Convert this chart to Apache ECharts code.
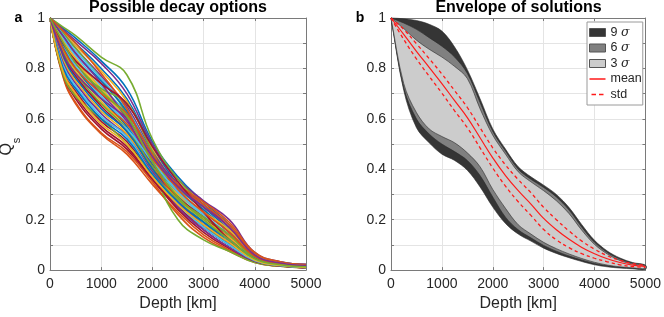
<!DOCTYPE html>
<html><head><meta charset="utf-8">
<script src="https://cdn.jsdelivr.net/npm/echarts@6/dist/echarts.min.js"></script>
<style>html,body{margin:0;padding:0;background:#fff}#c{width:664px;height:317px}</style>
</head><body><div id="c"></div>
<script>
// ---------- data ----------
const depthTicks = [0, 1000, 2000, 3000, 4000, 5000];
const qTicks = [0, 0.2, 0.4, 0.6, 0.8, 1];

// panel a: sampled decay curves (depth in km)
const depthA = [0, 250, 500, 1000, 1500, 2000, 2500, 3000, 3500, 4000, 4500, 5000];
const decayCurves = [
  [1, 0.96, 0.92, 0.83, 0.72, 0.51, 0.37, 0.27, 0.18, 0.065, 0.032, 0.022],
  [1, 0.775, 0.665, 0.545, 0.47, 0.35, 0.22, 0.13, 0.075, 0.03, 0.015, 0.009],
  [1, 0.915, 0.84, 0.72, 0.61, 0.44, 0.32, 0.25, 0.17, 0.06, 0.028, 0.018],
  [1, 0.955, 0.91, 0.82, 0.70, 0.50, 0.36, 0.275, 0.20, 0.07, 0.033, 0.023],
  [1, 0.965, 0.93, 0.845, 0.775, 0.52, 0.36, 0.26, 0.17, 0.06, 0.03, 0.02],
  [1, 0.92, 0.85, 0.73, 0.62, 0.45, 0.31, 0.21, 0.12, 0.045, 0.022, 0.014],
  [1, 0.785, 0.69, 0.57, 0.49, 0.36, 0.24, 0.15, 0.085, 0.033, 0.016, 0.01],
  [1, 0.95, 0.90, 0.80, 0.68, 0.49, 0.34, 0.25, 0.16, 0.06, 0.03, 0.02],
  [1, 0.77, 0.66, 0.54, 0.46, 0.34, 0.23, 0.14, 0.08, 0.032, 0.016, 0.01],
  [1, 0.945, 0.89, 0.79, 0.67, 0.48, 0.33, 0.24, 0.15, 0.055, 0.027, 0.018],
  [1, 0.94, 0.88, 0.77, 0.65, 0.47, 0.34, 0.26, 0.17, 0.06, 0.03, 0.02],
  [1, 0.94, 0.88, 0.76, 0.62, 0.40, 0.20, 0.12, 0.075, 0.03, 0.015, 0.01],
  [1, 0.935, 0.87, 0.76, 0.64, 0.46, 0.32, 0.22, 0.13, 0.05, 0.024, 0.016],
  [1, 0.80, 0.71, 0.59, 0.51, 0.37, 0.25, 0.16, 0.09, 0.035, 0.017, 0.01],
  [1, 0.93, 0.86, 0.75, 0.63, 0.46, 0.33, 0.24, 0.15, 0.055, 0.026, 0.017],
  [1, 0.80, 0.70, 0.60, 0.54, 0.42, 0.33, 0.26, 0.18, 0.065, 0.03, 0.02],
  [1, 0.91, 0.83, 0.71, 0.60, 0.44, 0.30, 0.20, 0.12, 0.045, 0.02, 0.013],
  [1, 0.90, 0.82, 0.70, 0.59, 0.43, 0.31, 0.23, 0.15, 0.055, 0.025, 0.016],
  [1, 0.87, 0.80, 0.72, 0.66, 0.47, 0.29, 0.19, 0.11, 0.04, 0.02, 0.012],
  [1, 0.895, 0.81, 0.69, 0.58, 0.42, 0.30, 0.22, 0.14, 0.05, 0.023, 0.015],
  [1, 0.78, 0.68, 0.56, 0.48, 0.36, 0.25, 0.17, 0.10, 0.04, 0.018, 0.011],
  [1, 0.885, 0.80, 0.68, 0.57, 0.42, 0.29, 0.19, 0.11, 0.04, 0.02, 0.012],
  [1, 0.85, 0.76, 0.66, 0.58, 0.44, 0.34, 0.27, 0.19, 0.07, 0.033, 0.022],
  [1, 0.875, 0.79, 0.67, 0.56, 0.41, 0.30, 0.23, 0.16, 0.06, 0.027, 0.017],
  [1, 0.93, 0.86, 0.74, 0.60, 0.41, 0.25, 0.16, 0.09, 0.035, 0.017, 0.01],
  [1, 0.865, 0.78, 0.66, 0.56, 0.41, 0.28, 0.18, 0.10, 0.038, 0.018, 0.011],
  [1, 0.81, 0.72, 0.63, 0.56, 0.43, 0.31, 0.22, 0.14, 0.05, 0.024, 0.015],
  [1, 0.855, 0.77, 0.65, 0.55, 0.40, 0.29, 0.21, 0.13, 0.048, 0.022, 0.014],
  [1, 0.845, 0.76, 0.64, 0.55, 0.40, 0.27, 0.17, 0.10, 0.04, 0.019, 0.011],
  [1, 0.95, 0.90, 0.78, 0.64, 0.43, 0.28, 0.21, 0.14, 0.05, 0.024, 0.015],
  [1, 0.835, 0.75, 0.63, 0.54, 0.39, 0.28, 0.20, 0.13, 0.05, 0.023, 0.014],
  [1, 0.825, 0.74, 0.62, 0.53, 0.39, 0.27, 0.18, 0.11, 0.042, 0.02, 0.012],
  [1, 0.78, 0.69, 0.60, 0.50, 0.38, 0.28, 0.21, 0.14, 0.05, 0.024, 0.015],
  [1, 0.815, 0.73, 0.61, 0.53, 0.38, 0.26, 0.17, 0.10, 0.038, 0.018, 0.011],
  [1, 0.90, 0.83, 0.74, 0.66, 0.49, 0.35, 0.23, 0.12, 0.045, 0.022, 0.014],
  [1, 0.805, 0.72, 0.60, 0.52, 0.38, 0.27, 0.19, 0.12, 0.045, 0.021, 0.013],
  [1, 0.88, 0.80, 0.70, 0.62, 0.46, 0.32, 0.23, 0.15, 0.055, 0.025, 0.016],
  [1, 0.79, 0.70, 0.58, 0.50, 0.37, 0.26, 0.18, 0.11, 0.04, 0.019, 0.011],
  [1, 0.86, 0.78, 0.68, 0.60, 0.45, 0.33, 0.25, 0.17, 0.06, 0.028, 0.018],
  [1, 0.905, 0.82, 0.71, 0.61, 0.43, 0.29, 0.20, 0.12, 0.045, 0.021, 0.013]
];

// panel b: envelopes (depth in km)
const depthB = [0,250,500,750,1000,1250,1500,1750,2000,2250,2500,2750,3000,3250,3500,3750,4000,4250,4500,4750,5000];
const upper9 = [1,0.997,0.99,0.975,0.948,0.885,0.795,0.68,0.56,0.48,0.41,0.37,0.337,0.30,0.248,0.18,0.118,0.076,0.048,0.03,0.02];
const upper6 = [1,0.98,0.955,0.922,0.888,0.845,0.78,0.665,0.55,0.472,0.40,0.36,0.328,0.29,0.238,0.17,0.11,0.07,0.044,0.027,0.018];
const upper3 = [1,0.958,0.912,0.876,0.845,0.808,0.76,0.64,0.535,0.46,0.39,0.35,0.315,0.275,0.224,0.158,0.102,0.064,0.038,0.024,0.016];
const lower3 = [1,0.74,0.625,0.56,0.53,0.505,0.465,0.41,0.32,0.245,0.18,0.143,0.11,0.085,0.064,0.046,0.031,0.02,0.013,0.009,0.006];
const lower6 = [1,0.725,0.60,0.54,0.50,0.47,0.435,0.375,0.29,0.21,0.16,0.128,0.098,0.075,0.056,0.04,0.026,0.017,0.011,0.007,0.005];
const lower9 = [1,0.713,0.565,0.505,0.46,0.435,0.396,0.33,0.25,0.185,0.143,0.115,0.087,0.066,0.049,0.034,0.021,0.013,0.008,0.005,0.003];
const meanQ  = [1,0.935,0.868,0.804,0.74,0.672,0.605,0.525,0.445,0.375,0.315,0.262,0.205,0.16,0.122,0.09,0.065,0.045,0.03,0.02,0.015];
const stdQ   = [0,0.02,0.03,0.035,0.038,0.04,0.04,0.04,0.04,0.042,0.044,0.045,0.044,0.04,0.033,0.025,0.018,0.012,0.009,0.006,0.004];

const lineColors = ['#0072BD','#D95319','#EDB120','#7E2F8E','#77AC30','#4DBEEE','#A2142F'];
const bandColors = {b9:'#353535', b6:'#808080', b3:'#cccccc'};

// ---------- chart ----------
const FONT = 'Liberation Sans, Arial, Helvetica, sans-serif';
const TXT = '#262626';
const FRAME = '#7a7a7a';
const RED = '#ff1a1a';
const chart = echarts.init(document.getElementById('c'), null, {renderer:'canvas'});

function qFmt(v){
  const k = Math.round(v*10);
  if (k % 2) return '';
  const t = qTicks.find(q => Math.abs(q - k/10) < 1e-9);
  return t === undefined ? '' : String(t);
}
function xAxes(gi){
  return [{
    type:'value', gridIndex:gi, min:0, max:5000, interval:1000, position:'bottom',
    axisLine:{onZero:false, lineStyle:{color:FRAME, width:1}},
    axisTick:{inside:true, length:3, lineStyle:{color:FRAME}},
    axisLabel:{fontSize:14, color:TXT, fontFamily:FONT, margin:7,
      formatter: v => depthTicks.includes(v) ? String(v) : ''},
    splitLine:{show:true, lineStyle:{color:'#e4e4e4', width:1}},
    name:'Depth [km]', nameLocation:'middle', nameGap:23,
    nameTextStyle:{fontSize:16, color:TXT, fontFamily:FONT}
  },{
    type:'value', gridIndex:gi, min:0, max:5000, interval:1000, position:'top',
    axisLine:{onZero:false, lineStyle:{color:FRAME, width:1}},
    axisTick:{inside:true, length:3, lineStyle:{color:FRAME}},
    axisLabel:{show:false}, splitLine:{show:false}
  }];
}
function yAxes(gi){
  return [{
    type:'value', gridIndex:gi, min:0, max:1, interval:0.1, position:'left',
    axisLine:{onZero:false, lineStyle:{color:FRAME, width:1}},
    axisTick:{inside:true, length:3, lineStyle:{color:FRAME}},
    axisLabel:{fontSize:14, color:TXT, fontFamily:FONT, margin:5, formatter:qFmt},
    splitLine:{show:true, lineStyle:{color:'#e4e4e4', width:1}}
  },{
    type:'value', gridIndex:gi, min:0, max:1, interval:0.1, position:'right',
    axisLine:{onZero:false, lineStyle:{color:FRAME, width:1}},
    axisTick:{inside:true, length:3, lineStyle:{color:FRAME}},
    axisLabel:{show:false}, splitLine:{show:false}
  }];
}

const series = [];
decayCurves.forEach((c, i) => {
  series.push({
    type:'line', xAxisIndex:0, yAxisIndex:0, symbol:'none', smooth:0.45,
    data: depthA.map((d, j) => [d, c[j]]),
    lineStyle:{color: lineColors[i % lineColors.length], width:1.6},
    silent:true, z:2
  });
});

function band(name, lo, hi, color){
  series.push({
    name, type:'custom', xAxisIndex:2, yAxisIndex:2, silent:true, z:2,
    itemStyle:{color},
    data:[[2500, 0.5]],
    renderItem:(params, api) => {
      const pts = [];
      for (let j = 0; j < depthB.length; j++) pts.push(api.coord([depthB[j], hi[j]]));
      for (let j = depthB.length - 1; j >= 0; j--) pts.push(api.coord([depthB[j], lo[j]]));
      return {type:'polygon', shape:{points:pts, smooth:0.35},
              style:{fill:color, stroke:'#2a2a2a', lineWidth:0.6}};
    }
  });
}
band('9 σ', lower9, upper9, bandColors.b9);
band('6 σ', lower6, upper6, bandColors.b6);
band('3 σ', lower3, upper3, bandColors.b3);

series.push({
  name:'mean', type:'line', xAxisIndex:2, yAxisIndex:2, symbol:'none', smooth:0.4,
  data: depthB.map((d, j) => [d, meanQ[j]]),
  lineStyle:{color:RED, width:1.2}, itemStyle:{color:RED}, z:5
});
['+','-'].forEach(sgn => {
  series.push({
    name:'std', type:'line', xAxisIndex:2, yAxisIndex:2, symbol:'none', smooth:0.4,
    data: depthB.map((d, j) => [d, sgn === '+' ? meanQ[j] + stdQ[j] : meanQ[j] - stdQ[j]]),
    lineStyle:{color:RED, width:1.3, type:[3.5,3]}, itemStyle:{color:RED}, z:5
  });
});

const iconSolid = 'path://M0,0h0.01v0.01zM0,3.2H16V4.8H0zM0,8h0.01v-0.01z';
const iconDash  = 'path://M0,0h0.01v0.01zM0,3.2h4.5v1.6h-4.5zM7.5,3.2h4.5v1.6h-4.5zM0,8h0.01v-0.01z';

const option = {
  animation:false,
  backgroundColor:'#fff',
  textStyle:{fontFamily:FONT},
  grid:[
    {left:50, top:18, width:256, height:256, containLabel:false},
    {left:391, top:18, width:255, height:256, containLabel:false}
  ],
  xAxis:[...xAxes(0), ...xAxes(1)],
  yAxis:[...yAxes(0), ...yAxes(1)],
  legend:{
    orient:'vertical', left:587, top:22, padding:[3,1,3,2], itemGap:0.5,
    itemWidth:16, itemHeight:8, selectedMode:false,
    backgroundColor:'#fff', borderColor:'#9a9a9a', borderWidth:1, borderRadius:0,
    textStyle:{fontSize:12.5, color:TXT, fontFamily:FONT, lineHeight:15,
      rich:{n:{fontSize:12.5, color:TXT, fontFamily:FONT, lineHeight:15},
            g:{fontSize:12.5, color:TXT, fontStyle:'italic', fontFamily:'DejaVu Serif, serif', lineHeight:15}}},
    formatter: nm => nm.indexOf('σ') >= 0 ? '{n|' + nm.split(' ')[0] + ' }{g|σ}' : nm,
    data:[
      {name:'9 σ', icon:'rect', itemStyle:{color:bandColors.b9, borderColor:'#555', borderWidth:1}},
      {name:'6 σ', icon:'rect', itemStyle:{color:bandColors.b6, borderColor:'#555', borderWidth:1}},
      {name:'3 σ', icon:'rect', itemStyle:{color:bandColors.b3, borderColor:'#555', borderWidth:1}},
      {name:'mean', icon:iconSolid, itemStyle:{color:RED, borderWidth:0}},
      {name:'std', icon:iconDash, itemStyle:{color:RED, borderWidth:0}}
    ]
  },
  graphic:[
    {type:'text', x:178, y:0, style:{text:'Possible decay options', font:'bold 16px ' + FONT, fill:'#000', textAlign:'center', textVerticalAlign:'top'}},
    {type:'text', x:518.5, y:0, style:{text:'Envelope of solutions', font:'bold 16px ' + FONT, fill:'#000', textAlign:'center', textVerticalAlign:'top'}},
    {type:'text', x:18.5, y:18.5, style:{text:'a', font:'bold 14px ' + FONT, fill:'#000', textAlign:'center', textVerticalAlign:'middle'}},
    {type:'text', x:360, y:18.5, style:{text:'b', font:'bold 14px ' + FONT, fill:'#000', textAlign:'center', textVerticalAlign:'middle'}},
    {type:'text', x:6.8, y:149.3, rotation:Math.PI/2, style:{text:'Q', font:'16px ' + FONT, fill:TXT, textAlign:'center', textVerticalAlign:'middle'}},
    {type:'text', x:16.8, y:140.5, rotation:Math.PI/2, style:{text:'s', font:'11px ' + FONT, fill:TXT, textAlign:'center', textVerticalAlign:'middle'}}
  ],
  series
};
chart.setOption(option);
</script></body></html>
